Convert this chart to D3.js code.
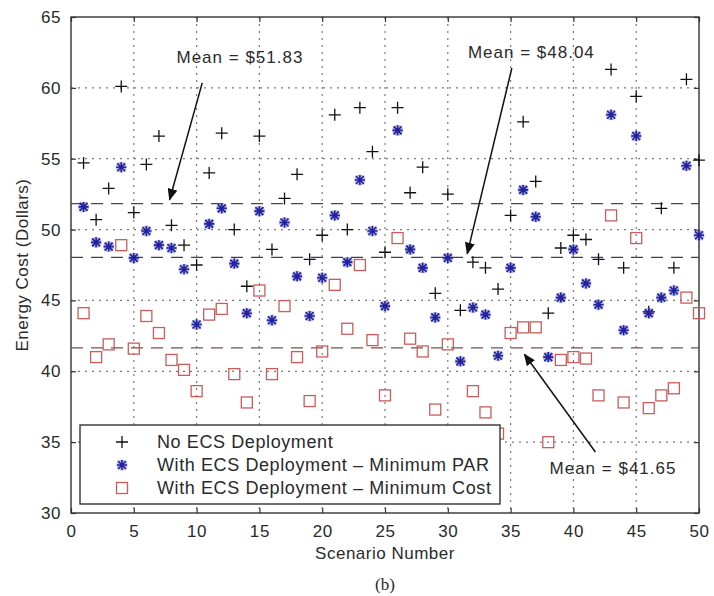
<!DOCTYPE html>
<html>
<head>
<meta charset="utf-8">
<script src="https://cdn.jsdelivr.net/npm/d3@7"></script>
<style>
  body { margin: 0; background: #fff; }
  text { font-family: "Liberation Sans", Arial, sans-serif; fill: #2a2a2a; }
</style>
</head>
<body>
<div id="chart"></div>
<script>
// scenario numbers 1..50
var scenarios = d3.range(1, 51);

// No ECS Deployment
var noEcs = [54.7, 50.7, 52.9, 60.1, 51.2, 54.6, 56.6, 50.3, 48.9, 47.5,
             54.0, 56.8, 50.0, 46.0, 56.6, 48.6, 52.2, 53.9, 47.9, 49.6,
             58.1, 50.0, 58.6, 55.5, 48.4, 58.6, 52.6, 54.4, 45.5, 52.5,
             44.3, 47.7, 47.3, 45.8, 51.0, 57.6, 53.4, 44.1, 48.7, 49.6,
             49.3, 47.9, 61.3, 47.3, 59.4, 44.2, 51.5, 47.3, 60.6, 54.9];

// With ECS Deployment - Minimum PAR
var minPar = [51.6, 49.1, 48.8, 54.4, 48.0, 49.9, 48.9, 48.7, 47.2, 43.3,
              50.4, 51.5, 47.6, 44.1, 51.3, 43.6, 50.5, 46.7, 43.9, 46.6,
              51.0, 47.7, 53.5, 49.9, 44.6, 57.0, 48.6, 47.3, 43.8, 48.0,
              40.7, 44.5, 44.0, 41.1, 47.3, 52.8, 50.9, 41.0, 45.2, 48.6,
              46.2, 44.7, 58.1, 42.9, 56.6, 44.1, 45.2, 45.7, 54.5, 49.6];

// With ECS Deployment - Minimum Cost
var minCost = [44.1, 41.0, 41.9, 48.9, 41.6, 43.9, 42.7, 40.8, 40.1, 38.6,
               44.0, 44.4, 39.8, 37.8, 45.7, 39.8, 44.6, 41.0, 37.9, 41.4,
               46.1, 43.0, 47.5, 42.2, 38.3, 49.4, 42.3, 41.4, 37.3, 41.9,
               34.9, 38.6, 37.1, 35.6, 42.7, 43.1, 43.1, 35.0, 40.8, 41.0,
               40.9, 38.3, 51.0, 37.8, 49.4, 37.4, 38.3, 38.8, 45.2, 44.1];

var means = [51.83, 48.04, 41.65];
var meanLabels = ["Mean = $51.83", "Mean = $48.04", "Mean = $41.65"];
var legendLabels = ["No ECS Deployment",
                    "With ECS Deployment \u2013 Minimum PAR",
                    "With ECS Deployment \u2013 Minimum Cost"];
var xTicks = [0, 5, 10, 15, 20, 25, 30, 35, 40, 45, 50];
var yTicks = [30, 35, 40, 45, 50, 55, 60, 65];

var svgWidth = 714, svgHeight = 596;
var margin = {top: 17, right: 15, bottom: 83, left: 71};
var width = svgWidth - margin.left - margin.right;
var height = svgHeight - margin.top - margin.bottom;

var svg = d3.select("#chart").append("svg")
  .attr("width", svgWidth)
  .attr("height", svgHeight);

var defs = svg.append("defs");
defs.append("marker")
  .attr("id", "arrow")
  .attr("viewBox", "0 0 12 10")
  .attr("refX", 11).attr("refY", 5)
  .attr("markerWidth", 12).attr("markerHeight", 10)
  .attr("markerUnits", "userSpaceOnUse")
  .attr("orient", "auto")
  .append("path")
  .attr("d", "M0,0 L12,5 L0,10 Z")
  .attr("fill", "#111");

var g = svg.append("g")
  .attr("transform", `translate(${margin.left}, ${margin.top})`);

var xScale = d3.scaleLinear().domain([0, 50]).range([0, width]);
var yScale = d3.scaleLinear().domain([30, 65]).range([height, 0]);

// dotted grid
g.append("g").selectAll("line")
  .data(xTicks.slice(1, -1))
  .enter().append("line")
  .attr("x1", d => xScale(d)).attr("x2", d => xScale(d))
  .attr("y1", 0).attr("y2", height)
  .attr("stroke", "#7a7a7a").attr("stroke-width", 1.2)
  .attr("stroke-dasharray", "2,5");

g.append("g").selectAll("line")
  .data(yTicks.slice(1, -1))
  .enter().append("line")
  .attr("y1", d => yScale(d)).attr("y2", d => yScale(d))
  .attr("x1", 0).attr("x2", width)
  .attr("stroke", "#7a7a7a").attr("stroke-width", 1.2)
  .attr("stroke-dasharray", "2,5");

// axes (ticks inside, on all four sides)
var bottomAxis = d3.axisBottom(xScale).tickValues(xTicks).tickSizeInner(-5).tickSizeOuter(0).tickPadding(12);
var leftAxis = d3.axisLeft(yScale).tickValues(yTicks).tickSizeInner(-5).tickSizeOuter(0).tickPadding(10);
var topAxis = d3.axisTop(xScale).tickValues(xTicks).tickSizeInner(-5).tickSizeOuter(0).tickFormat("");
var rightAxis = d3.axisRight(yScale).tickValues(yTicks).tickSizeInner(-5).tickSizeOuter(0).tickFormat("");

var xAxis = g.append("g").attr("transform", `translate(0, ${height})`).call(bottomAxis);
var yAxis = g.append("g").call(leftAxis);
g.append("g").call(topAxis);
g.append("g").attr("transform", `translate(${width}, 0)`).call(rightAxis);

g.selectAll(".domain").remove();
g.selectAll(".tick line").attr("stroke", "#333").attr("stroke-width", 1.2);
g.selectAll(".tick text")
  .style("font-size", "17px")
  .style("letter-spacing", "0.6px")
  .attr("fill", "#2a2a2a");

g.append("rect")
  .attr("x", 0).attr("y", 0)
  .attr("width", width).attr("height", height)
  .attr("fill", "none")
  .attr("stroke", "#333").attr("stroke-width", 1.4);

// mean lines
var meanColors = ["#4a4a4a", "#3c3c6e", "#7a5050"];
g.append("g").selectAll("line")
  .data(means)
  .enter().append("line")
  .attr("x1", 0).attr("x2", width)
  .attr("y1", d => yScale(d)).attr("y2", d => yScale(d))
  .attr("stroke", (d, i) => meanColors[i])
  .attr("stroke-width", 1.4)
  .attr("stroke-dasharray", "12,8");

// No ECS: plus markers
var plusGroup = g.append("g");
plusGroup.selectAll("path")
  .data(scenarios)
  .enter().append("path")
  .attr("transform", (d, i) => `translate(${xScale(d)}, ${yScale(noEcs[i])})`)
  .attr("d", "M-6,0 H6 M0,-6 V6")
  .attr("stroke", "#111").attr("stroke-width", 1.3).attr("fill", "none");

// Min PAR: blue asterisk blobs
var parGroup = g.append("g");
var parMarks = parGroup.selectAll("g")
  .data(scenarios)
  .enter().append("g")
  .attr("transform", (d, i) => `translate(${xScale(d)}, ${yScale(minPar[i])})`);
parMarks.append("circle")
  .attr("r", 5.5)
  .attr("fill", "#6a6ad8").attr("opacity", 0.5);
parMarks.append("path")
  .attr("d", "M-4,-4 L4,4 M-4,4 L4,-4 M0,-5 V5 M-5,0 H5")
  .attr("stroke", "#22229a").attr("stroke-width", 1.6);

// Min Cost: red squares
var costGroup = g.append("g");
costGroup.selectAll("rect")
  .data(scenarios)
  .enter().append("rect")
  .attr("x", (d, i) => xScale(d) - 5.5)
  .attr("y", (d, i) => yScale(minCost[i]) - 5.5)
  .attr("width", 11).attr("height", 11)
  .attr("fill", "none")
  .attr("stroke", "#cc5b5b").attr("stroke-width", 1.3);

// annotations
var notes = [
  {label: meanLabels[0], tx: 8.4, ty: 62.16, x1: 10.45, y1: 60.35, x2: 7.85, y2: 52.1},
  {label: meanLabels[1], tx: 31.6, ty: 62.55, x1: 35.1, y1: 61.4, x2: 31.55, y2: 48.3},
  {label: meanLabels[2], tx: 38.1, ty: 33.15, x1: 41.75, y1: 34.3, x2: 36.1, y2: 41.2}
];
var noteGroup = g.append("g");
noteGroup.selectAll("line")
  .data(notes)
  .enter().append("line")
  .attr("x1", d => xScale(d.x1)).attr("y1", d => yScale(d.y1))
  .attr("x2", d => xScale(d.x2)).attr("y2", d => yScale(d.y2))
  .attr("stroke", "#111").attr("stroke-width", 1.5)
  .attr("marker-end", "url(#arrow)");
noteGroup.selectAll("text")
  .data(notes)
  .enter().append("text")
  .attr("x", d => xScale(d.tx)).attr("y", d => yScale(d.ty))
  .attr("dy", "0.35em")
  .style("font-size", "17px")
  .style("letter-spacing", "1px")
  .text(d => d.label);

// legend
var legend = svg.append("g").attr("transform", "translate(80, 425)");
legend.append("rect")
  .attr("width", 420).attr("height", 79)
  .attr("fill", "#fff")
  .attr("stroke", "#333").attr("stroke-width", 1.4);

var rowY = [17, 40, 63];
legend.append("path")
  .attr("transform", `translate(42, ${rowY[0]})`)
  .attr("d", "M-6,0 H6 M0,-6 V6")
  .attr("stroke", "#111").attr("stroke-width", 1.3);
var lp = legend.append("g").attr("transform", `translate(42, ${rowY[1]})`);
lp.append("circle").attr("r", 5.5).attr("fill", "#6a6ad8").attr("opacity", 0.5);
lp.append("path")
  .attr("d", "M-4,-4 L4,4 M-4,4 L4,-4 M0,-5 V5 M-5,0 H5")
  .attr("stroke", "#22229a").attr("stroke-width", 1.6);
legend.append("rect")
  .attr("x", 36.5).attr("y", rowY[2] - 5.5)
  .attr("width", 11).attr("height", 11)
  .attr("fill", "none").attr("stroke", "#cc5b5b").attr("stroke-width", 1.3);

legend.selectAll("text.lbl")
  .data(legendLabels)
  .enter().append("text")
  .attr("class", "lbl")
  .attr("x", 77)
  .attr("y", (d, i) => rowY[i])
  .attr("dy", "0.36em")
  .style("font-size", "18px")
  .style("letter-spacing", "0.6px")
  .text(d => d);

// axis titles
svg.append("text")
  .attr("transform", `translate(22, ${margin.top + height / 2}) rotate(-90)`)
  .attr("text-anchor", "middle")
  .attr("dy", "0.35em")
  .style("font-size", "17px")
  .style("letter-spacing", "0.5px")
  .text("Energy Cost (Dollars)");

svg.append("text")
  .attr("x", margin.left + width / 2)
  .attr("y", 553)
  .attr("text-anchor", "middle")
  .attr("dy", "0.35em")
  .style("font-size", "17px")
  .style("letter-spacing", "0.5px")
  .text("Scenario Number");

svg.append("text")
  .attr("x", margin.left + width / 2)
  .attr("y", 584)
  .attr("text-anchor", "middle")
  .attr("dy", "0.35em")
  .style("font-family", "'Liberation Serif', 'Times New Roman', serif")
  .style("font-size", "17px")
  .text("(b)");
</script>
</body>
</html>
